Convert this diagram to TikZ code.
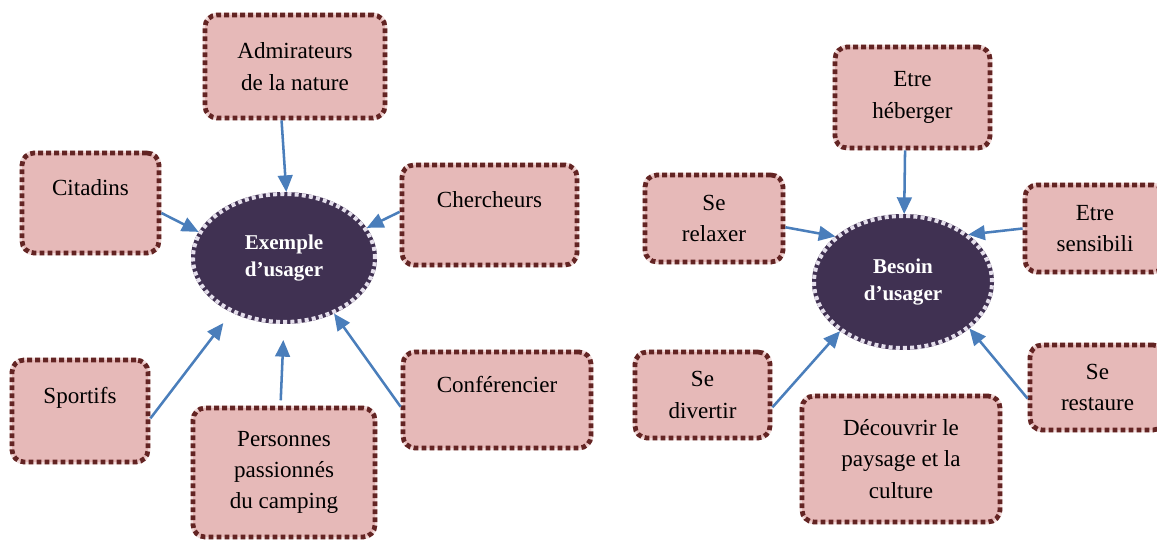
\documentclass[tikz,border=0pt]{standalone}
\usepackage{fontspec}
\setmainfont{Liberation Serif}
\usetikzlibrary{arrows.meta,shapes.geometric}
\definecolor{boxfill}{HTML}{E6B9B8}
\definecolor{boxline}{HTML}{632423}
\definecolor{boxhalo}{HTML}{F2DCDB}
\definecolor{ellfill}{HTML}{403152}
\definecolor{ellline}{HTML}{E5DFEC}
\definecolor{arrcol}{HTML}{4A7EBB}
\begin{document}
\begin{tikzpicture}[x=0.75pt,y=-0.75pt,
  box/.style={rectangle, rounded corners=9pt, fill=boxfill, draw=boxline,
    line width=3.6pt, dash pattern=on 3.6pt off 2.4pt,
    preaction={draw=boxhalo, line width=3.6pt, solid},
    inner sep=0pt, align=center, text=black,
    font=\fontsize{17.3}{23.5}\selectfont},
  ell/.style={ellipse, fill=ellfill, draw=ellline, line width=3pt,
    dash pattern=on 3pt off 2.4pt,
    preaction={draw=ellfill, line width=3pt, solid},
    inner sep=0pt, align=center, text=white,
    font=\fontsize{15.8}{20}\selectfont\bfseries},
  conn/.style={draw=arrcol, line width=1.9pt, -{Triangle[length=12.5pt,width=11pt]}}]
\useasboundingbox (0,0) rectangle (1157,545);
\clip (0,0) rectangle (1157,545);
% left cluster
\node[ell, minimum width=136.5pt, minimum height=96pt] (ex) at (284,258) {Exemple\\d’usager};
\node[box, minimum width=135pt, minimum height=77.25pt] (adm) at (295,66.5) {Admirateurs\\de la nature};
\node[box, minimum width=102.75pt, minimum height=75pt] (cit) at (90.5,203) {Citadins\\\mbox{}};
\node[box, minimum width=131.25pt, minimum height=75pt] (cher) at (489.5,215) {Chercheurs\\\mbox{}};
\node[box, minimum width=102pt, minimum height=76.5pt] (spo) at (80,411) {Sportifs\\\mbox{}};
\node[box, minimum width=136.5pt, minimum height=96.75pt] (per) at (284,472.5) {Personnes\\passionnés\\du camping};
\node[box, minimum width=141pt, minimum height=72pt] (conf) at (497,400) {Conférencier\\\mbox{}};
% right cluster
\node[ell, minimum width=133.5pt, minimum height=99pt] (bes) at (903,282) {Besoin\\d’usager};
\node[box, minimum width=116.25pt, minimum height=75.75pt] (heb) at (912.5,97.5) {Etre\\héberger};
\node[box, minimum width=103.5pt, minimum height=65.25pt] (rel) at (714,218.5) {Se\\relaxer};
\node[box, minimum width=105pt, minimum height=65.25pt] (sens) at (1095,228.5) {Etre\\sensibili};
\node[box, minimum width=101.25pt, minimum height=64.5pt] (div) at (702.5,395) {Se\\divertir};
\node[box, minimum width=148.5pt, minimum height=94.5pt] (dec) at (901,459) {Découvrir le\\paysage et la\\culture};
\node[box, minimum width=101.25pt, minimum height=63.75pt] (rest) at (1097.5,387.5) {Se\\restaure};
% connectors
\draw[conn] (adm.256) -- (ex.88);
\draw[conn] (cit.352) -- (ex.163);
\draw[conn] (cher.178) -- (ex.20);
\draw[conn, shorten >=10pt] (spo.354) -- (ex.226);
\draw[conn, shorten >=12pt, shorten <=4pt] (per.93) -- (ex.270);
\draw[conn] (conf.184) -- (ex.312);
\draw[conn] (heb.262) -- (bes.89);
\draw[conn] (rel.353) -- (bes.146);
\draw[conn] (sens.180) -- (bes.36);
\draw[conn] (div.350) -- (bes.218);
\draw[conn] (rest.189) -- (bes.325);
\end{tikzpicture}
\end{document}
